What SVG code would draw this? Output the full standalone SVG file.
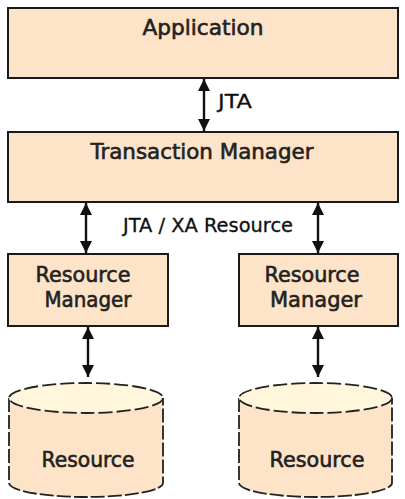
<svg xmlns="http://www.w3.org/2000/svg" width="405" height="499" viewBox="0 0 405 499">
<style>
.box{fill:#FDE4C8;stroke:#1a1a1a;stroke-width:2}
.lbl{font-family:"DejaVu Sans","Liberation Sans",sans-serif;font-size:21px;fill:#222;stroke:#222;stroke-width:0.6;text-anchor:middle}
.clbl{font-family:"DejaVu Sans","Liberation Sans",sans-serif;font-size:19px;fill:#111;stroke:#111;stroke-width:0.3}
.conn{stroke:#111;stroke-width:2.4;fill:none;marker-start:url(#ah);marker-end:url(#ah)}
.body{fill:#FDE4C8;stroke:#222;stroke-width:1.8;stroke-dasharray:14 3}
.top{fill:#FFF6DC;stroke:#222;stroke-width:1.8;stroke-dasharray:14 4}
</style>
<defs>
<marker id="ah" viewBox="0 0 10 10" refX="10" refY="5" markerWidth="5.2" markerHeight="5.2" orient="auto-start-reverse" markerUnits="strokeWidth">
<path d="M0,0 L10,5 L0,10 Z" fill="#111"/>
</marker>
</defs>
<rect width="405" height="499" fill="#fff"/>
<g id="application">
<rect class="box" x="8" y="8" width="390" height="70"/>
<text class="lbl" x="203" y="34.5" textLength="121" lengthAdjust="spacingAndGlyphs">Application</text>
</g>
<g id="transaction-manager">
<rect class="box" x="8" y="132" width="390" height="70"/>
<text class="lbl" x="202" y="158.5" textLength="223" lengthAdjust="spacingAndGlyphs">Transaction Manager</text>
</g>
<g id="rm-left">
<rect class="box" x="8" y="254" width="160" height="72"/>
<text class="lbl" x="83" y="282" textLength="95" lengthAdjust="spacingAndGlyphs">Resource</text>
<text class="lbl" x="88" y="307" textLength="87" lengthAdjust="spacingAndGlyphs">Manager</text>
</g>
<g id="rm-right">
<rect class="box" x="239" y="254" width="159" height="72"/>
<text class="lbl" x="312" y="282" textLength="95" lengthAdjust="spacingAndGlyphs">Resource</text>
<text class="lbl" x="316" y="307" textLength="92" lengthAdjust="spacingAndGlyphs">Manager</text>
</g>
<g id="res-left">
<path class="body" d="M9,398 L9,483 A77,14 0 0 0 163,483 L163,398"/>
<ellipse class="top" cx="86" cy="398" rx="77" ry="15"/>
<text class="lbl" x="88" y="467" textLength="93" lengthAdjust="spacingAndGlyphs">Resource</text>
</g>
<g id="res-right">
<path class="body" d="M239,398 L239,483 A76.5,14 0 0 0 392,483 L392,398"/>
<ellipse class="top" cx="315.5" cy="398" rx="76.5" ry="15"/>
<text class="lbl" x="317" y="467" textLength="95" lengthAdjust="spacingAndGlyphs">Resource</text>
</g>
<g id="connectors">
<line class="conn" x1="204" y1="79" x2="204" y2="131"/>
<line class="conn" x1="86" y1="203" x2="86" y2="253"/>
<line class="conn" x1="318" y1="203" x2="318" y2="253"/>
<line class="conn" x1="88" y1="327" x2="88" y2="377"/>
<line class="conn" x1="318" y1="327" x2="318" y2="377"/>
<text class="clbl" x="218" y="108" textLength="34" lengthAdjust="spacingAndGlyphs">JTA</text>
<text class="clbl" x="123" y="232" textLength="170" lengthAdjust="spacingAndGlyphs">JTA / XA Resource</text>
</g>
</svg>
